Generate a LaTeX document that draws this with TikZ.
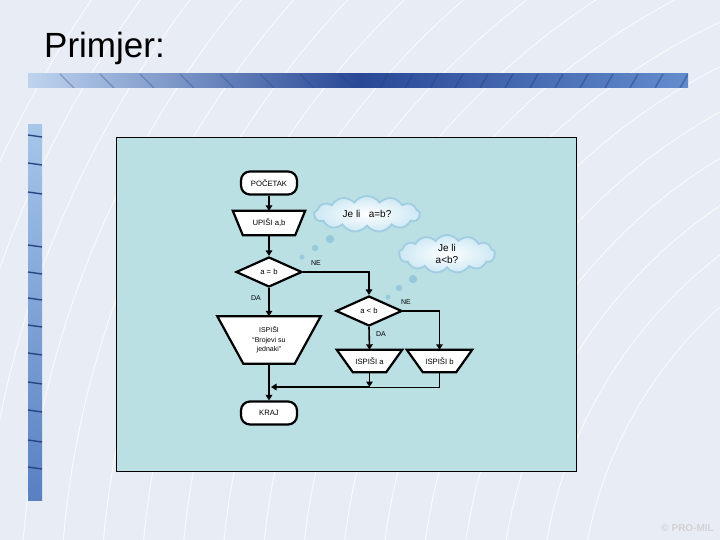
\documentclass[tikz,border=0pt]{standalone}
\usepackage{fontspec}
\setmainfont{Liberation Sans}
\usetikzlibrary{arrows.meta,shapes.geometric,shapes.symbols,calc}
\definecolor{bgc}{RGB}{232,237,245}
\definecolor{panel}{RGB}{186,224,228}
\definecolor{barlight}{RGB}{190,212,238}
\definecolor{bardark}{RGB}{40,72,150}
\definecolor{barright}{RGB}{100,140,205}
\definecolor{vtop}{RGB}{166,198,234}
\definecolor{vbot}{RGB}{88,128,194}
\definecolor{stripe}{RGB}{40,66,130}
\definecolor{cloudedge}{RGB}{160,205,225}
\definecolor{cloudfill}{RGB}{205,232,244}
\definecolor{bubblec}{RGB}{150,200,220}
\begin{document}
\begin{tikzpicture}[x=1pt,y=-1pt,
  every node/.style={font=\fontsize{7.7}{8.5}\selectfont, inner sep=0pt},
  shapeline/.style={draw, line width=2.2pt, fill=white, line join=miter},
  term/.style={draw, line width=2.2pt, fill=white, rounded corners=9pt, minimum width=56pt, minimum height=23pt},
  frame/.style={minimum width=#1, draw=none},
  dec/.style={diamond, draw, line width=2.2pt, fill=white, aspect=2.2, minimum width=66pt, minimum height=30pt},
  conn/.style={line width=1.6pt, -{Triangle[length=5.5pt,width=6.5pt]}},
  thin/.style={line width=0.9pt},
  lbl/.style={font=\fontsize{7}{8}\selectfont},
  thought/.style={cloud, cloud puffs=13, cloud puff arc=110, cloud ignores aspect, draw=cloudedge, line width=1.8pt, inner color=white, outer color=cloudfill, font=\fontsize{10}{12}\selectfont, align=center, inner sep=1pt},
  bubble/.style={circle, fill=bubblec, draw=cloudedge, line width=0.5pt, inner sep=0pt}
]
\useasboundingbox (0,0) rectangle (720,540);
% background
\fill[bgc] (0,0) rectangle (720,540);
\begin{scope}
\clip (0,0) rectangle (720,540);
\foreach \r in {420,460,...,1100}{
  \draw[white, line width=1pt, opacity=0.7] (1000,620) circle[radius=\r];
}
\end{scope}
% title
\node[anchor=base west, font=\fontsize{35}{40}\selectfont] (title) at (44,58) {Primjer:};
% horizontal bar
\fill[left color=barlight, right color=barright, middle color=bardark] (28,74) rectangle (688,88);
\begin{scope}
\clip (28,74) rectangle (688,88);
\foreach \x in {60,100,...,340}{ \draw[stripe, line width=1.2pt, opacity=0.35] (\x,74) -- (\x+14,88); }
\foreach \x in {380,405,...,680}{ \draw[stripe, line width=1.6pt, opacity=0.45] (\x,88) -- (\x+8,74); }
\end{scope}
% vertical bar
\fill[top color=vtop, bottom color=vbot] (28,125) rectangle (42,500);
\foreach \y in {135,163,192,245,272,298,325,353,382,410,440,467}{
  \draw[stripe, line width=1.4pt] (28,\y) -- (42,\y+2);
}
% watermark
\node[anchor=east, font=\bfseries\fontsize{10}{11}\selectfont, text=white!65!gray] (wm) at (714,528) {\copyright\ PRO-MIL};
% panel
\draw[fill=panel, line width=0.9pt] (116,137) rectangle (576,471);

% flowchart
\node[term] (poc) at (269,183) {PO\v{C}ETAK};

\node[frame=72pt, minimum height=24pt] (upis) at (269,223) {};
\draw[shapeline] (upis.north west) -- (upis.north east) -- ($(upis.south east)+(-10,0)$) -- ($(upis.south west)+(10,0)$) -- cycle;
\node at (upis) {UPI\v{S}I a,b};

\node[dec] (d1) at (269,272) {a = b};

\node[frame=103pt, minimum height=47pt] (isp) at (269,340) {};
\draw[shapeline] (isp.north west) -- (isp.north east) -- ($(isp.south east)+(-26,0)$) -- ($(isp.south west)+(26,0)$) -- cycle;
\node[align=center, font=\fontsize{7}{9.5}\selectfont] at (isp) {ISPI\v{S}I\\``Brojevi su\\jednaki''};

\node[term] (kraj) at (269,413) {KRAJ};

\node[dec] (d2) at (369,311) {a < b};

\node[frame=65pt, minimum height=22pt] (ia) at (369.5,361) {};
\draw[shapeline] (ia.north west) -- (ia.north east) -- ($(ia.south east)+(-16,0)$) -- ($(ia.south west)+(16,0)$) -- cycle;
\node at (ia) {ISPI\v{S}I a};

\node[frame=65pt, minimum height=22pt] (ib) at (439.5,361) {};
\draw[shapeline] (ib.north west) -- (ib.north east) -- ($(ib.south east)+(-16,0)$) -- ($(ib.south west)+(16,0)$) -- cycle;
\node at (ib) {ISPI\v{S}I b};

\coordinate (j1) at (369.5,387);
\coordinate (j2) at (271,387);

% connectors
\draw[conn] (poc.south) -- (upis.north);
\draw[conn] (upis.south) -- (d1.north);
\draw[conn] (d1.south) -- (isp.north);
\draw[conn] (isp.south) -- (kraj.north);
\draw[conn] (d1.east) -| (d2.north);
\draw[conn] (d2.south) -- (ia.north);
\draw[conn] (d2.east) -| (ib.north);
\draw[conn] (ia.south) -- (j1);
\draw[thin] (ib.south) |- (j1);
\draw[conn] (j1) -- (j2);

% labels
\node[lbl] (da1) at (256,298) {DA};
\node[lbl] (ne1) at (316,263) {NE};
\node[lbl] (da2) at (381,334) {DA};
\node[lbl] (ne2) at (406,302) {NE};

% thought clouds
\node[thought, minimum width=106pt, minimum height=36pt] (c1) at (367,214) {Je li\ \ \ a=b?};
\node[bubble, minimum size=8pt] (b1) at (330,239) {};
\node[bubble, minimum size=6pt] (b2) at (315,248) {};
\node[bubble, minimum size=4.5pt] (b3) at (302,257) {};

\node[thought, minimum width=96pt, minimum height=38pt] (c2) at (447,254) {Je li\\a<b?};
\node[bubble, minimum size=8pt] (b4) at (413,279) {};
\node[bubble, minimum size=6pt] (b5) at (399,288) {};
\node[bubble, minimum size=4.5pt] (b6) at (388,297) {};
\end{tikzpicture}
\end{document}
